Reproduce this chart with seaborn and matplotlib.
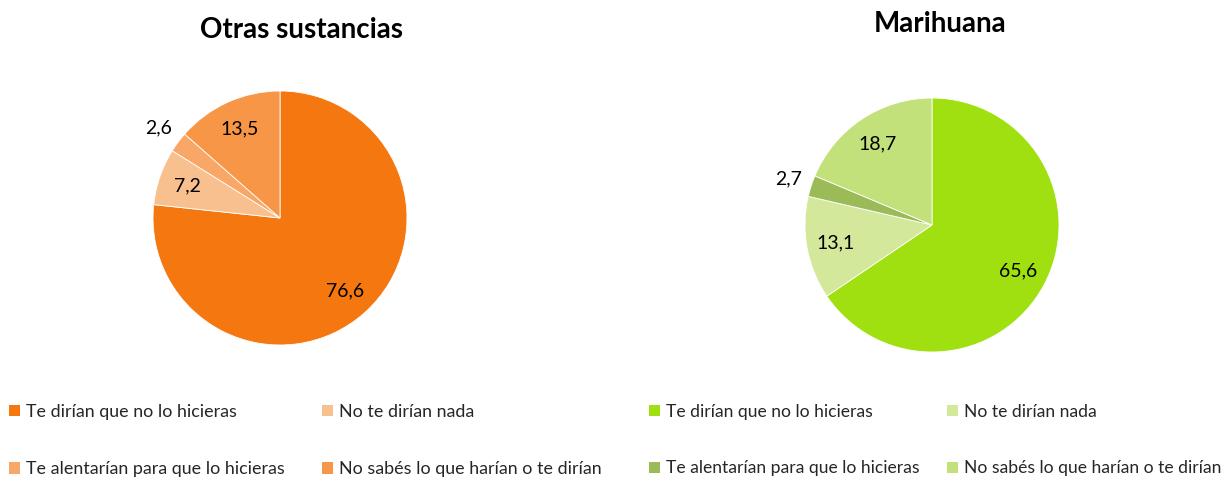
import matplotlib
matplotlib.use("Agg")
import matplotlib.pyplot as plt
import seaborn as sns
import numpy as np
from matplotlib.patches import Patch

sns.set_theme(style="white")
plt.rcParams['font.family'] = ['Lato', 'DejaVu Sans']

categories = ["Te dirían que no lo hicieras", "No te dirían nada",
              "Te alentarían para que lo hicieras", "No sabés lo que harían o te dirían"]
otras_values = [76.6, 7.2, 2.6, 13.5]
marihuana_values = [65.6, 13.1, 2.7, 18.7]
otras_colors = ["#F5770F", "#F9C08F", "#F8A766", "#F79646"]
marihuana_colors = ["#A0E010", "#D4E89B", "#9BBB59", "#C3E17A"]
titles = ["Otras sustancias", "Marihuana"]

W, H = 1232, 479
fig = plt.figure(figsize=(W / 100, H / 100), dpi=100)

def fmt(v):
    return f"{v:.1f}".replace(".", ",")

def draw_pie(cx, cy, r, values, colors, title, title_xy, legend_x, colspace, lfs):
    half = 1.1 * r
    ax = fig.add_axes([(cx - half) / W, (H - cy - half) / H, 2 * half / W, 2 * half / H])
    wedges, _ = ax.pie(values, colors=colors, startangle=90, counterclock=False,
                       wedgeprops=dict(linewidth=0.6, edgecolor="white"))
    for w, v in zip(wedges, values):
        ang = np.deg2rad((w.theta1 + w.theta2) / 2)
        d = 1.19 if v < 5 else 0.77
        ax.text(d * np.cos(ang), d * np.sin(ang), fmt(v), ha="center", va="center",
                fontsize=14, color="black")
    ax.set_xlim(-1.1, 1.1)
    ax.set_ylim(-1.1, 1.1)
    ax.set_aspect("equal")
    ax.axis("off")
    fig.text(title_xy[0] / W, 1 - title_xy[1] / H, title, ha="center", va="center",
             fontsize=20, fontweight="bold", color="black")
    order = [0, 2, 1, 3]
    handles = [Patch(facecolor=colors[i], edgecolor="none") for i in order]
    labels = [categories[i] for i in order]
    fig.legend(handles, labels, loc="upper left",
               bbox_to_anchor=(legend_x / W, 1 - 404 / H), ncol=2, frameon=False,
               fontsize=lfs, handlelength=0.6, handleheight=0.6, handletextpad=0.35,
               labelspacing=2.3, columnspacing=colspace, borderaxespad=0, borderpad=0)

draw_pie(280, 218, 127, otras_values, otras_colors, titles[0], (302, 30), 9, 2.1, 12.9)
draw_pie(932, 225, 127, marihuana_values, marihuana_colors, titles[1], (940, 24), 649, 1.6, 12.6)

fig.savefig("out.png", dpi=100, facecolor="white")
